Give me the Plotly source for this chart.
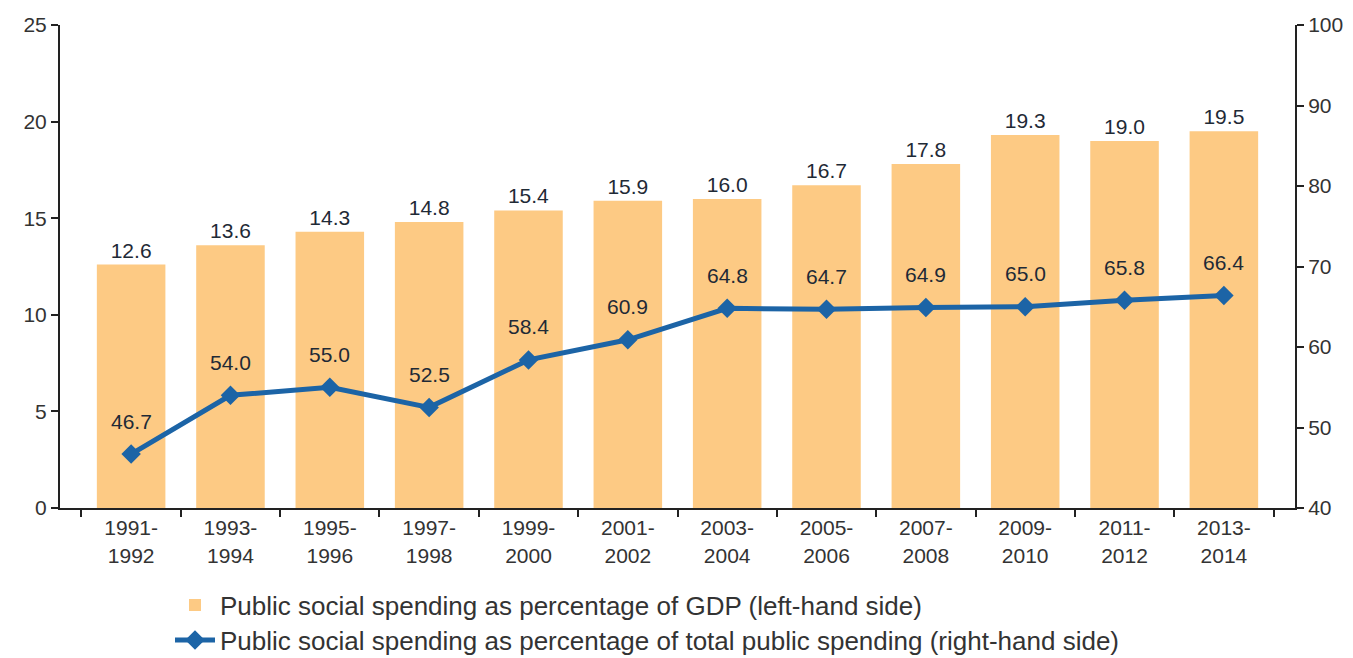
import plotly.graph_objects as go

periods = ["1991-1992", "1993-1994", "1995-1996", "1997-1998", "1999-2000", "2001-2002",
           "2003-2004", "2005-2006", "2007-2008", "2009-2010", "2011-2012", "2013-2014"]
gdp_share = [12.6, 13.6, 14.3, 14.8, 15.4, 15.9, 16.0, 16.7, 17.8, 19.3, 19.0, 19.5]
spending_share = [46.7, 54.0, 55.0, 52.5, 58.4, 60.9, 64.8, 64.7, 64.9, 65.0, 65.8, 66.4]

tick_text = [p.replace("-", "-<br>") for p in periods]

BAR = "#FDCA84"
LINE = "#1C64A6"
FONT = "Liberation Sans, Arial, sans-serif"
LABEL_COLOR = "#1f2a36"

fig = go.Figure()
fig.add_trace(go.Bar(
    x=periods, y=gdp_share,
    marker=dict(color=BAR, line=dict(width=0)),
    width=0.69,
    text=[f"{v:.1f}" for v in gdp_share],
    textposition="outside",
    textfont=dict(size=21, color=LABEL_COLOR, family=FONT),
    cliponaxis=False,
    name="Public social spending as percentage of GDP (left-hand side)",
    legend="legend",
))
fig.add_trace(go.Scatter(
    x=periods, y=spending_share, yaxis="y2",
    mode="lines+markers",
    line=dict(color=LINE, width=5),
    marker=dict(symbol="diamond", size=15, color=LINE),
    name="Public social spending as percentage of total public spending (right-hand side)",
    legend="legend2",
))

for p, v in zip(periods, spending_share):
    fig.add_annotation(
        x=p, y=v, yref="y2", text=f"{v:.1f}", showarrow=False,
        yshift=33, font=dict(size=21, color=LABEL_COLOR, family=FONT),
    )

axis_common = dict(
    showline=True, linecolor="#222222", linewidth=2,
    ticks="outside", ticklen=7, tickwidth=2, tickcolor="#222222",
    showgrid=False, zeroline=False,
    tickfont=dict(size=21, color="#333333", family=FONT),
)

legend_common = dict(
    xref="container", yref="container",
    xanchor="left", yanchor="middle",
    font=dict(size=26, color="#333333", family=FONT),
    itemwidth=40, bgcolor="rgba(0,0,0,0)",
)

fig.update_layout(
    width=1353, height=658,
    margin=dict(l=60, r=58, t=25, b=150, autoexpand=False),
    plot_bgcolor="white", paper_bgcolor="white",
    bargap=0.31,
    showlegend=True,
    legend=dict(**legend_common, x=170 / 1353, y=1 - 605 / 658),
    legend2=dict(**legend_common, x=170 / 1353, y=1 - 640 / 658),
    xaxis=dict(
        **axis_common,
        tickvals=periods, ticktext=tick_text, tickson="boundaries",
    ),
    yaxis=dict(**axis_common, range=[0, 25], dtick=5),
    yaxis2=dict(**axis_common, range=[40, 100], dtick=10,
                overlaying="y", side="right"),
)

fig.write_html("out.html")
